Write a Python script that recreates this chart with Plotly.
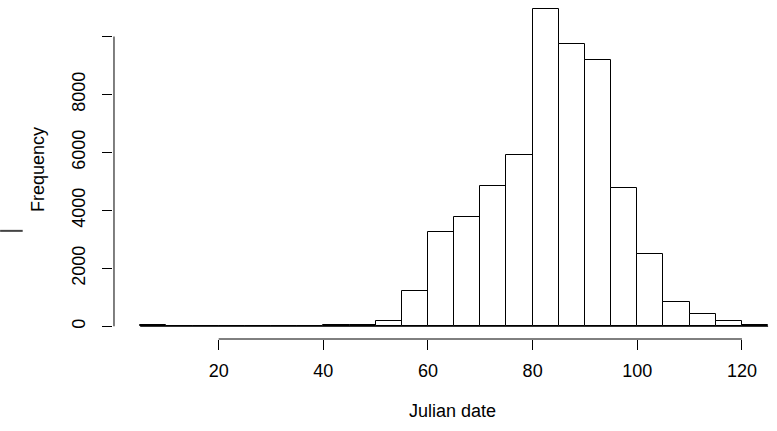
import plotly.graph_objects as go

# Histogram of Julian dates: bins of width 5 from 5 to 125
bin_edges = [5, 10, 15, 20, 25, 30, 35, 40, 45, 50, 55, 60, 65, 70, 75, 80,
             85, 90, 95, 100, 105, 110, 115, 120, 125]
counts = [50, 0, 0, 0, 0, 0, 0, 30, 35, 200, 1210, 3255, 3775, 4830, 5920,
          10950, 9750, 9180, 4780, 2490, 855, 440, 200, 45]

x_ticks = [20, 40, 60, 80, 100, 120]
y_ticks = [0, 2000, 4000, 6000, 8000, 10000]
y_tick_labels = ["0", "2000", "4000", "6000", "8000", ""]

centers = [(a + b) / 2 for a, b in zip(bin_edges[:-1], bin_edges[1:])]
widths = [b - a for a, b in zip(bin_edges[:-1], bin_edges[1:])]

FONT = "Liberation Sans, Arial, sans-serif"
FS = 18

fig = go.Figure()
# baseline formed by zero-height bins
fig.add_trace(go.Scatter(x=[bin_edges[0], bin_edges[-1]], y=[0, 0], mode="lines",
                         line=dict(color="black", width=1), showlegend=False,
                         hoverinfo="skip"))
fig.add_trace(go.Bar(x=centers, y=counts, width=widths,
                     marker=dict(color="white", line=dict(color="black", width=1)),
                     showlegend=False))

fig.update_layout(
    width=777, height=431,
    margin=dict(l=113, r=0, t=0, b=92, autoexpand=False),
    paper_bgcolor="white", plot_bgcolor="white",
    font=dict(family=FONT, size=FS, color="black"),
    bargap=0,
    xaxis=dict(range=[-0.2, 126.7], tickvals=x_ticks, ticks="outside", ticklen=10,
               tickwidth=1, tickcolor="black", showgrid=False, zeroline=False,
               showline=False, tickfont=dict(size=FS), ticklabelstandoff=5,
               automargin=False),
    yaxis=dict(range=[-438, 11261], tickvals=y_ticks, ticktext=y_tick_labels,
               ticks="outside", ticklen=10, tickwidth=1, tickcolor="black",
               tickangle=-90, showgrid=False, zeroline=False, showline=False,
               tickfont=dict(size=FS), ticklabelstandoff=10, automargin=False,
               title=dict(text="Frequency", font=dict(size=FS), standoff=19)),
    shapes=[
        # R-style axis lines spanning first to last tick
        dict(type="line", xref="paper", yref="y", x0=0.0015, x1=0.0015,
             y0=y_ticks[0], y1=y_ticks[-1], line=dict(color="black", width=1)),
        dict(type="line", xref="x", yref="paper", x0=x_ticks[0], x1=x_ticks[-1],
             y0=0, y1=0, line=dict(color="black", width=1)),
        # stray mark at left edge of the original image
        dict(type="line", xref="paper", yref="paper", x0=-0.170, x1=-0.136,
             y0=0.319, y1=0.319, line=dict(color="#444", width=2)),
    ],
    annotations=[
        dict(text="Julian date", xref="paper", yref="paper", x=0.511, y=-0.213,
             xanchor="center", yanchor="middle", showarrow=False,
             font=dict(size=FS)),
    ],
)

fig.write_html("out.html", config={"displayModeBar": False},
               post_script="document.body.style.margin='0';")
